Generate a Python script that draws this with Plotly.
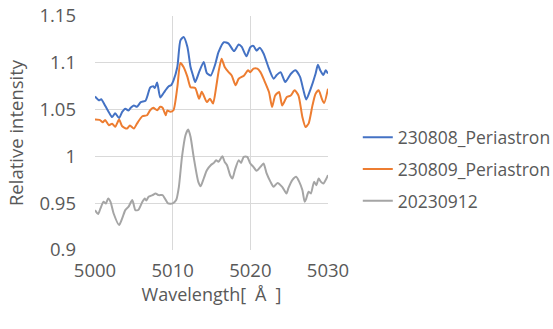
import plotly.graph_objects as go

# --- data ---
wl_blue = [5000.0, 5000.5, 5000.8, 5001.35, 5001.8, 5002.2, 5002.6, 5003.1, 5003.5, 5003.9,
           5004.3, 5004.6, 5005.0, 5005.4, 5005.9, 5006.5, 5006.8, 5007.1, 5007.5, 5007.7,
           5008.0, 5008.4, 5008.85, 5009.2, 5009.5, 5009.8, 5010.1, 5010.6, 5011.0, 5011.4,
           5011.9, 5012.3, 5012.6, 5012.9, 5013.4, 5014.0, 5014.4, 5014.9, 5015.5, 5015.9,
           5016.6, 5017.2, 5017.9, 5018.5, 5018.9, 5019.5, 5020.0, 5020.4, 5020.8, 5021.2,
           5021.7, 5022.4, 5023.0, 5023.4, 5023.9, 5024.5, 5025.2, 5025.8, 5026.4, 5026.8,
           5027.2, 5027.7, 5028.4, 5028.7, 5029.0, 5029.4, 5029.7, 5030.0]
int_blue = [1.064, 1.060, 1.061, 1.0535, 1.047, 1.042, 1.046, 1.041, 1.0475, 1.051,
            1.049, 1.052, 1.0545, 1.053, 1.058, 1.0595, 1.066, 1.0735, 1.075, 1.073,
            1.079, 1.063, 1.068, 1.072, 1.075, 1.076, 1.081, 1.0955, 1.124, 1.1275,
            1.117, 1.0955, 1.087, 1.0795, 1.090, 1.1008, 1.089, 1.0865, 1.099, 1.1114,
            1.122, 1.1205, 1.1125, 1.1196, 1.117, 1.107, 1.1167, 1.118, 1.113, 1.116,
            1.110, 1.0937, 1.083, 1.087, 1.090, 1.0795, 1.088, 1.092, 1.085, 1.072,
            1.0607, 1.0706, 1.0884, 1.098, 1.092, 1.087, 1.092, 1.0885]

wl_orange = [5000.0, 5000.6, 5001.0, 5001.3, 5001.8, 5002.2, 5002.6, 5003.1, 5003.5, 5004.1,
             5004.5, 5005.0, 5005.4, 5006.1, 5006.7, 5007.1, 5007.5, 5008.0, 5008.4, 5008.7,
             5009.1, 5009.3, 5009.7, 5010.1, 5010.6, 5011.0, 5011.4, 5011.9, 5012.3, 5012.9,
             5013.4, 5013.75, 5014.4, 5014.8, 5015.2, 5015.6, 5015.9, 5016.3, 5016.7, 5017.2,
             5017.6, 5018.1, 5018.5, 5019.2, 5019.7, 5020.0, 5020.4, 5020.9, 5021.3, 5021.8,
             5022.4, 5022.8, 5023.2, 5023.7, 5024.1, 5024.7, 5025.2, 5025.7, 5026.2, 5026.7,
             5027.1, 5027.5, 5028.0, 5028.4, 5028.8, 5029.2, 5029.5, 5030.0]
int_orange = [1.0393, 1.039, 1.0364, 1.039, 1.0333, 1.035, 1.0316, 1.0393, 1.0322, 1.0297,
              1.033, 1.0297, 1.035, 1.0429, 1.044, 1.0493, 1.052, 1.0493, 1.053, 1.052,
              1.044, 1.049, 1.0476, 1.0493, 1.074, 1.0997, 1.0955, 1.085, 1.074, 1.073,
              1.0617, 1.069, 1.058, 1.0617, 1.0564, 1.074, 1.090, 1.1044, 1.0955, 1.090,
              1.0865, 1.0759, 1.083, 1.0865, 1.092, 1.090, 1.0937, 1.0937, 1.090, 1.081,
              1.0688, 1.0528, 1.065, 1.0688, 1.0545, 1.0634, 1.065, 1.0706, 1.065, 1.0421,
              1.0315, 1.035, 1.0545, 1.067, 1.0706, 1.0617, 1.057, 1.0724]

wl_gray = [5000.0, 5000.4, 5000.7, 5001.1, 5001.4, 5001.7, 5002.0, 5002.4, 5003.1, 5003.5,
           5003.9, 5004.3, 5004.8, 5005.2, 5005.6, 5006.1, 5006.4, 5006.6, 5006.9, 5007.4,
           5007.8, 5008.2, 5008.7, 5009.0, 5009.4, 5010.0, 5010.45, 5010.8, 5011.2, 5011.65,
           5012.0, 5012.3, 5012.7, 5013.3, 5013.6, 5014.0, 5014.4, 5014.9, 5015.3, 5015.6,
           5015.9, 5016.4, 5016.7, 5017.0, 5017.4, 5017.7, 5018.0, 5018.5, 5018.8, 5019.15,
           5019.6, 5020.0, 5020.4, 5020.8, 5021.3, 5021.7, 5022.1, 5022.6, 5023.0, 5023.5,
           5024.1, 5024.65, 5024.9, 5025.4, 5025.9, 5026.3, 5026.7, 5027.0, 5027.2, 5027.5,
           5027.8, 5028.2, 5028.5, 5028.8, 5029.1, 5029.4, 5029.8, 5030.0]
int_gray = [0.9426, 0.9384, 0.9444, 0.9515, 0.9497, 0.9551, 0.9515, 0.939, 0.9267, 0.9338,
            0.9426, 0.946, 0.9533, 0.9426, 0.943, 0.9515, 0.9551, 0.953, 0.9568, 0.9586,
            0.9604, 0.9586, 0.9586, 0.955, 0.9498, 0.9498, 0.9533, 0.9675, 0.9995, 1.0226,
            1.0287, 1.021, 0.9995, 0.9728, 0.9682, 0.9764, 0.9853, 0.9906, 0.9931, 0.996,
            0.9942, 1.0002, 0.994, 0.9906, 0.9799, 0.9764, 0.985, 0.996, 0.993, 0.9995,
            0.9995, 0.9924, 0.9888, 0.9846, 0.9888, 0.9924, 0.9818, 0.9728, 0.9675, 0.9717,
            0.9675, 0.9604, 0.966, 0.9746, 0.9782, 0.9728, 0.964, 0.9515, 0.955, 0.9622,
            0.9604, 0.9728, 0.9693, 0.9764, 0.9728, 0.971, 0.9764, 0.98]

series_names = ["230808_Periastron", "230809_Periastron", "20230912"]
x_ticks = [5000, 5010, 5020, 5030]
y_ticks = [0.9, 0.95, 1.0, 1.05, 1.1, 1.15]
y_tick_labels = ["0.9", "0.95", "1", "1.05", "1.1", "1.15"]
x_title = "Wavelength[\u2002Å\u2002]"
y_title = "Relative intensity"

colors = ["#4472C4", "#ED7D31", "#A5A5A5"]
FONT = "Open Sans"
TXT = "#595959"

fig = go.Figure()
for i, (xs, ys) in enumerate([(wl_blue, int_blue), (wl_orange, int_orange), (wl_gray, int_gray)]):
    fig.add_trace(go.Scatter(
        x=xs, y=ys, mode="lines", name=series_names[i], legendgroup=f"g{i}",
        line=dict(color=colors[i], width=2, shape="spline", smoothing=0.6),
    ))

fig.update_layout(
    width=553, height=329,
    margin=dict(l=95, r=225, t=16, b=79, autoexpand=False),
    paper_bgcolor="white", plot_bgcolor="white",
    font=dict(family=FONT, size=18, color=TXT),
    showlegend=True,
    legend=dict(xref="container", yref="container", x=0.647, xanchor="left",
                y=0.637, yanchor="top",
                tracegroupgap=6, font=dict(size=17.5, color=TXT),
                bgcolor="rgba(0,0,0,0)"),
)
fig.update_xaxes(
    range=[5000, 5030], tickvals=x_ticks, showgrid=True, gridcolor="#D9D9D9", gridwidth=1,
    zeroline=False, showline=False, ticks="", ticklabelstandoff=7, automargin=False,
    tickfont=dict(size=18.5, color=TXT),
    title=dict(text=x_title, font=dict(size=18, color=TXT), standoff=7),
)
fig.update_yaxes(
    range=[0.9, 1.15], tickvals=y_ticks, ticktext=y_tick_labels, showgrid=True,
    gridcolor="#D9D9D9", gridwidth=1, zeroline=False, showline=False, ticks="",
    ticklabelstandoff=18, automargin=False,
    tickfont=dict(size=18.5, color=TXT),
    title=dict(text=y_title, font=dict(size=18.5, color=TXT), standoff=10),
)

fig.write_html("out.html")
